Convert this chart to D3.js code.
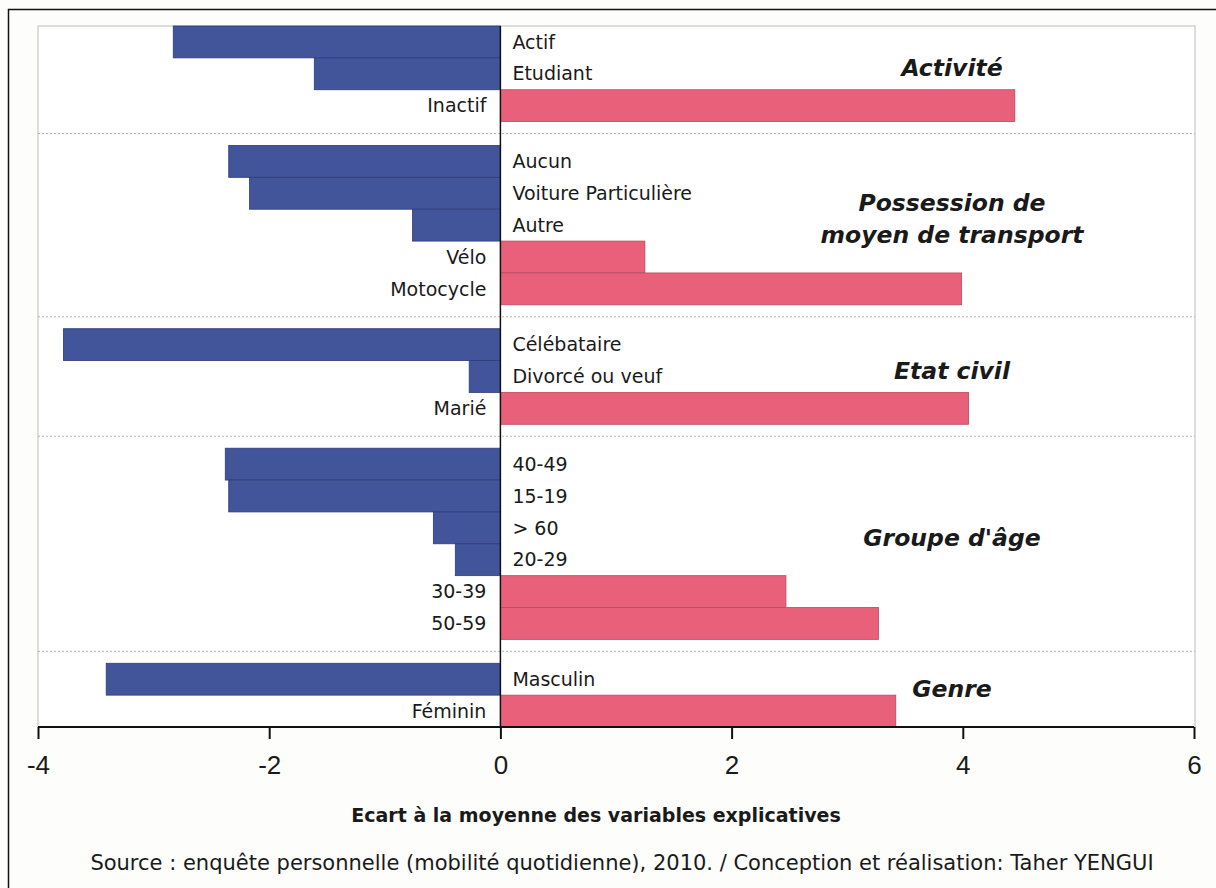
<!DOCTYPE html>
<html lang="fr">
<head>
<meta charset="UTF-8">
<title>Ecart à la moyenne des variables explicatives</title>
<script src="https://d3js.org/d3.v7.min.js"></script>
<style>
  body { margin: 0; background: #fff; }
  svg { font-family: "DejaVu Sans", Verdana, sans-serif; }
  .cat { font-size: 19px; fill: #1a1a1a; }
  .grp { font-size: 23.5px; font-weight: bold; font-style: italic; fill: #1a1a1a; }
</style>
</head>
<body>
<div id="chart"></div>
<script>
const groupTitles = [["Activité"], ["Possession de", "moyen de transport"], ["Etat civil"], ["Groupe d'âge"], ["Genre"]];
const categories = ["Actif", "Etudiant", "Inactif",
  "Aucun", "Voiture Particulière", "Autre", "Vélo", "Motocycle",
  "Célébataire", "Divorcé ou veuf", "Marié",
  "40-49", "15-19", "> 60", "20-29", "30-39", "50-59",
  "Masculin", "Féminin"];
const values = [-2.83, -1.61, 4.45,
  -2.35, -2.17, -0.76, 1.25, 3.99,
  -3.78, -0.27, 4.05,
  -2.38, -2.35, -0.58, -0.39, 2.47, 3.27,
  -3.41, 3.42];
const groupOf = [0, 0, 0, 1, 1, 1, 1, 1, 2, 2, 2, 3, 3, 3, 3, 3, 3, 4, 4];
const xTicks = [-4, -2, 0, 2, 4, 6];

const W = 1216, H = 888;
const m = { left: 38, right: 1194, top: 26, bottom: 727 };
const gap = 0.75;

const svg = d3.select("#chart").append("svg")
  .attr("width", W).attr("height", H);

svg.append("rect").attr("width", W).attr("height", H).attr("fill", "#fdfdfb");
// outer frame
svg.append("path").attr("d", `M8.5,${H} V9.5 H${W}`)
  .attr("fill", "none").attr("stroke", "#111").attr("stroke-width", 1.5);

const x = d3.scaleLinear().domain([-4, 6]).range([m.left, m.right]);
const slot = categories.map((c, i) => i + groupOf[i] * gap);
const y = d3.scaleLinear().domain([0, categories.length + 4 * gap]).range([m.top, m.bottom]);

// plot frame
svg.append("rect")
  .attr("x", m.left).attr("y", m.top)
  .attr("width", m.right - m.left + 1).attr("height", m.bottom - m.top)
  .attr("fill", "#fff").attr("stroke", "#bdbdbd").attr("stroke-width", 1);

// group separators
const firsts = groupOf.map((g, i) => i).filter(i => i > 0 && groupOf[i] !== groupOf[i - 1]);
svg.selectAll(".sep").data(firsts).enter().append("line")
  .attr("x1", m.left).attr("x2", m.right + 1)
  .attr("y1", i => y(slot[i] - gap / 2)).attr("y2", i => y(slot[i] - gap / 2))
  .attr("stroke", "#b5b5b5").attr("stroke-dasharray", "2,2");

const data = categories.map((c, i) => ({ c, v: values[i], s: slot[i] }));

svg.selectAll(".bar").data(data).enter().append("rect")
  .attr("x", d => x(Math.min(0, d.v)))
  .attr("width", d => Math.abs(x(d.v) - x(0)))
  .attr("y", d => y(d.s))
  .attr("height", d => y(d.s + 1) - y(d.s))
  .attr("fill", d => d.v < 0 ? "#42549a" : "#e9607a")
  .attr("stroke", d => d.v < 0 ? "#2e3c78" : "#b94a60")
  .attr("stroke-width", 0.8);

svg.selectAll(".cat").data(data).enter().append("text")
  .attr("class", "cat")
  .attr("x", d => d.v < 0 ? x(0) + 12 : x(0) - 14)
  .attr("y", d => y(d.s + 0.5))
  .attr("dy", "0.35em")
  .attr("text-anchor", d => d.v < 0 ? "start" : "end")
  .text(d => d.c);

// zero line
svg.append("line")
  .attr("x1", x(0)).attr("x2", x(0)).attr("y1", m.top).attr("y2", m.bottom)
  .attr("stroke", "#111").attr("stroke-width", 1.5);

// group titles
groupTitles.forEach((lines, g) => {
  const idx = groupOf.map((gg, i) => i).filter(i => groupOf[i] === g);
  const cy = (y(slot[idx[0]]) + y(slot[idx[idx.length - 1]] + 1)) / 2 - 6;
  const t = svg.append("text").attr("class", "grp")
    .attr("x", 952).attr("text-anchor", "middle");
  lines.forEach((l, k) => {
    t.append("tspan").attr("x", 952)
      .attr("y", cy + (k - (lines.length - 1) / 2) * 32)
      .attr("dy", "0.35em").text(l);
  });
});

// x axis
const ax = svg.append("g").attr("transform", `translate(0,${m.bottom})`)
  .call(d3.axisBottom(x).tickValues(xTicks).tickSize(12).tickPadding(17).tickFormat(d3.format("d")));
ax.select(".domain").attr("stroke", "#111").attr("stroke-width", 2.2).attr("d", `M${m.left},0H${m.right}`);
ax.selectAll(".tick line").attr("stroke", "#111").attr("stroke-width", 2);
ax.selectAll(".tick text")
  .style("font-size", "26px").style("fill", "#1a1a1a")
  .text(d => d < 0 ? "-" + Math.abs(d) : d);

svg.append("text")
  .attr("x", 596).attr("y", 822)
  .attr("text-anchor", "middle")
  .style("font-size", "19px").style("font-weight", "bold").style("fill", "#1a1a1a")
  .text("Ecart à la moyenne des variables explicatives");

svg.append("text")
  .attr("x", 622).attr("y", 870)
  .attr("text-anchor", "middle")
  .style("font-size", "21px").style("fill", "#1a1a1a")
  .text("Source : enquête personnelle (mobilité quotidienne), 2010. / Conception et réalisation: Taher YENGUI");
</script>
</body>
</html>
